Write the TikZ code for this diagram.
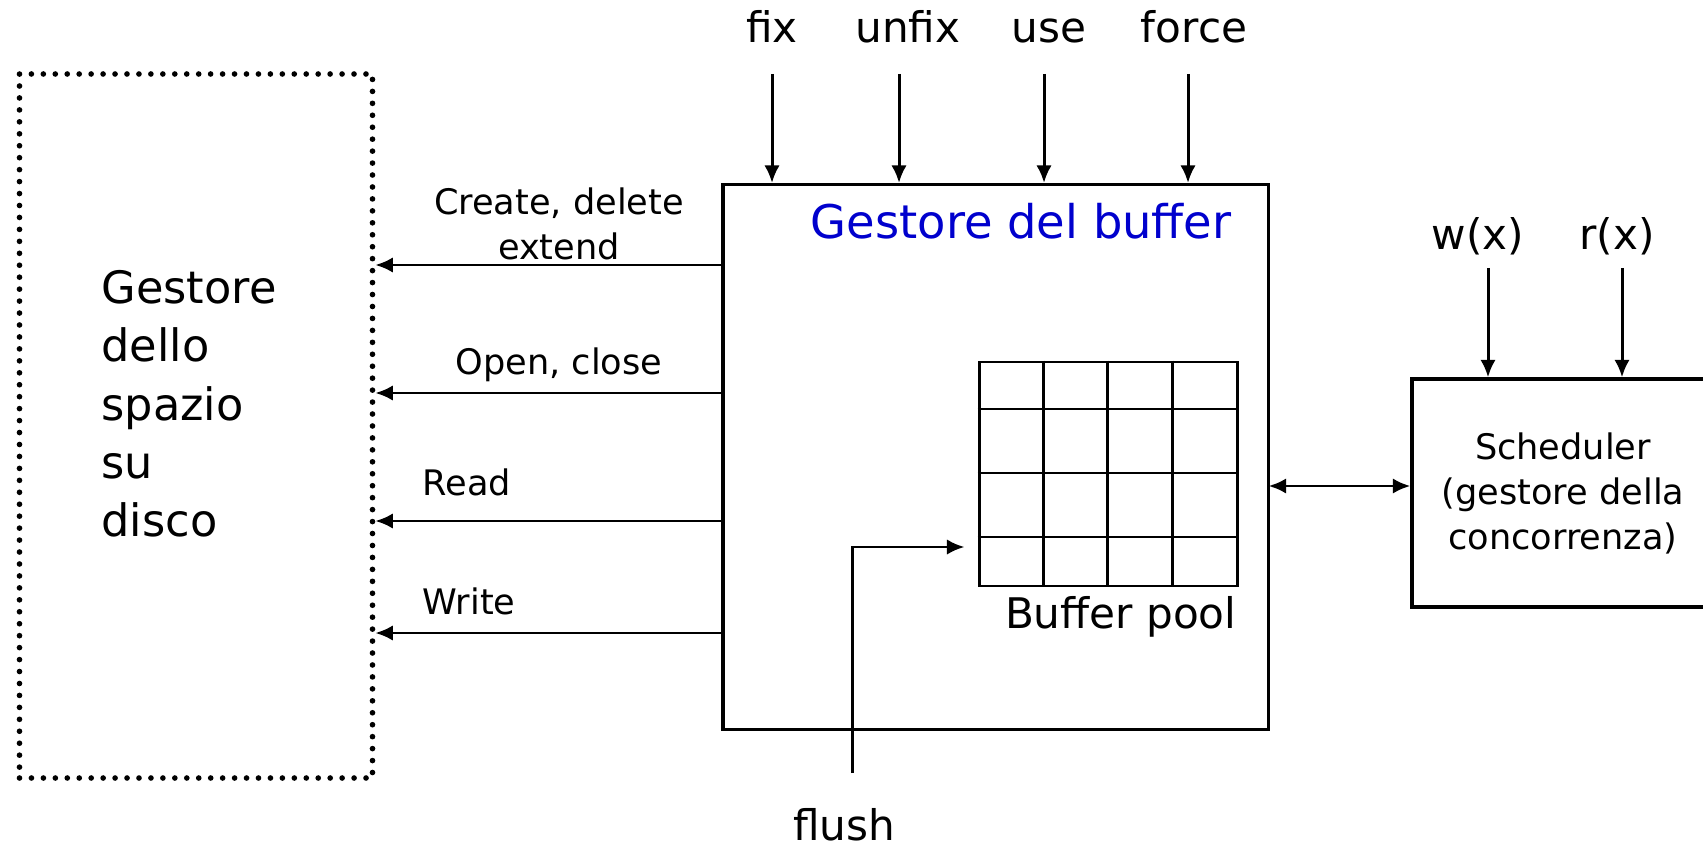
\documentclass[tikz,border=0pt]{standalone}
\usepackage{fontspec}
\setmainfont{DejaVu Sans}
\usetikzlibrary{arrows.meta}
\definecolor{titleblue}{RGB}{0,0,205}
\begin{document}
\begin{tikzpicture}[
  >={Latex[length=5pt,width=4.4pt]},
  line width=0.85pt,
  lbl/.style={inner sep=0pt, anchor=base, font=\fontsize{12}{14}\selectfont},
  small/.style={inner sep=0pt, align=center, font=\fontsize{10}{12.6}\selectfont},
  box/.style={draw, line width=0.95pt, inner sep=0pt},
  dotbox/.style={draw, line width=1.6pt, line cap=round, dash pattern=on 0pt off 3.4pt}
]
\clip (0, 0) rectangle (17.03, 8.48);
% disk space manager
\path (1.96, 4.22) node[dotbox, minimum width=3.53cm, minimum height=7.04cm] (disk) {};
\path (1.00, 4.44) node[anchor=west, inner sep=0pt, align=left, font=\fontsize{12.7}{16.6}\selectfont] (disktxt) {Gestore\\dello\\spazio\\su\\disco};
% buffer manager
\path (9.958, 3.908) node[box, minimum width=5.456cm, minimum height=5.452cm] (buf) {};
\path (12.33, 6.27) node[anchor=east, inner sep=0pt, text=titleblue, font=\fontsize{13.2}{15}\selectfont] (buftitle) {Gestore del buffer};
% buffer pool
\path (11.08, 3.74) node[box, line width=0.85pt, minimum width=2.58cm, minimum height=2.24cm] (pool) {};
\draw (pool.north west |- 0, 4.39) -- (pool.north east |- 0, 4.39);
\draw (pool.north west |- 0, 3.75) -- (pool.north east |- 0, 3.75);
\draw (pool.north west |- 0, 3.11) -- (pool.north east |- 0, 3.11);
\draw (pool.north -| 10.43, 0) -- (pool.south -| 10.43, 0);
\draw (pool.north -| 11.07, 0) -- (pool.south -| 11.07, 0);
\draw (pool.north -| 11.72, 0) -- (pool.south -| 11.72, 0);
\path (12.38, 2.20) node[lbl, anchor=base east] (poollbl) {Buffer pool};
% scheduler
\path (15.63, 3.55) node[box, minimum width=3.02cm, minimum height=2.28cm, align=center, font=\fontsize{10}{12.8}\selectfont] (sched) {Scheduler\\(gestore della\\concorrenza)};
% calls from above
\path (7.72, 8.05) node[lbl] (fix) {fix};
\path (9.08, 8.05) node[lbl] (unfix) {unfix};
\path (10.49, 8.05) node[lbl] (use) {use};
\path (11.94, 8.05) node[lbl] (force) {force};
\coordinate (fixin) at (7.72, 7.74);
\coordinate (unfixin) at (8.99, 7.74);
\coordinate (usein) at (10.44, 7.74);
\coordinate (forcein) at (11.88, 7.74);
\draw[->] (fixin) -- (fixin |- buf.north);
\draw[->] (unfixin) -- (unfixin |- buf.north);
\draw[->] (usein) -- (usein |- buf.north);
\draw[->] (forcein) -- (forcein |- buf.north);
% calls to the disk manager
\coordinate (create) at (7.23, 5.83);
\coordinate (open) at (7.23, 4.55);
\coordinate (read) at (7.23, 3.27);
\coordinate (write) at (7.23, 2.15);
\draw[->] (create) -- (create -| disk.east);
\draw[->] (open) -- (open -| disk.east);
\draw[->] (read) -- (read -| disk.east);
\draw[->] (write) -- (write -| disk.east);
\path (5.59, 6.24) node[small] (createlbl) {Create, delete\\extend};
\path (5.59, 4.83) node[small] (openlbl) {Open, close};
\path (4.67, 3.66) node[small] (readlbl) {Read};
\path (4.69, 2.47) node[small] (writelbl) {Write};
% flush
\path (8.44, 0.08) node[lbl] (flush) {flush};
\coordinate (flushbot) at (8.52, 0.75);
\coordinate (flushtop) at (8.52, 3.01);
\draw[->, shorten >=0.13cm] (flushbot) |- (pool.west |- flushtop);
% scheduler link
\coordinate (link) at (12.686, 3.62);
\draw[<->] (link) -- (link -| sched.west);
\path (14.78, 5.98) node[lbl] (wx) {w(x)};
\path (16.17, 5.98) node[lbl] (rx) {r(x)};
\coordinate (wxin) at (14.88, 5.80);
\coordinate (rxin) at (16.22, 5.80);
\draw[->] (wxin) -- (wxin |- sched.north);
\draw[->] (rxin) -- (rxin |- sched.north);
\end{tikzpicture}
\end{document}
